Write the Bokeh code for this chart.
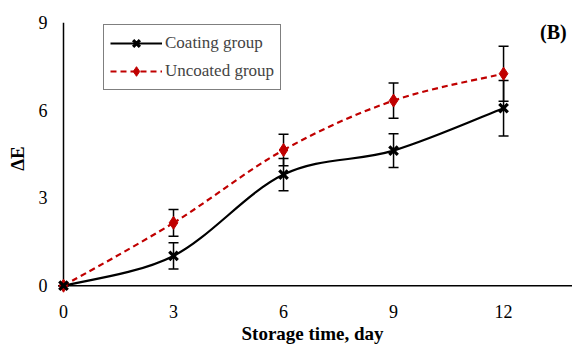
from bokeh.plotting import figure
from bokeh.models import (Range1d, FixedTicker, Whisker, TeeHead, ColumnDataSource,
                          Legend, LegendItem, Label)
from bokeh.embed import file_html
from bokeh.resources import INLINE

days = [0, 3, 6, 9, 12]
coating = [0.0, 1.02, 3.80, 4.62, 6.07]
coating_err = [0.0, 0.45, 0.55, 0.58, 0.95]
uncoated = [0.0, 2.15, 4.64, 6.33, 7.25]
uncoated_err = [0.0, 0.46, 0.54, 0.60, 0.94]
x_ticks = [0, 3, 6, 9, 12]
y_ticks = [0, 3, 6, 9]

RED = "#C00000"
FONT = "Liberation Serif"
X_END = 13.88


def smooth_segments(xs, ys):
    # Excel-like smoothed line: cubic Bezier per segment, Catmull-Rom control points
    n = len(xs)
    out = dict(x0=[], y0=[], x1=[], y1=[], cx0=[], cy0=[], cx1=[], cy1=[])
    for i in range(n - 1):
        xm, ym = (xs[i - 1], ys[i - 1]) if i > 0 else (xs[i], ys[i])
        xp, yp = (xs[i + 2], ys[i + 2]) if i + 2 < n else (xs[i + 1], ys[i + 1])
        out["x0"].append(xs[i]); out["y0"].append(ys[i])
        out["x1"].append(xs[i + 1]); out["y1"].append(ys[i + 1])
        out["cx0"].append(xs[i] + (xs[i + 1] - xm) / 6)
        out["cy0"].append(ys[i] + (ys[i + 1] - ym) / 6)
        out["cx1"].append(xs[i + 1] - (xp - xs[i]) / 6)
        out["cy1"].append(ys[i + 1] - (yp - ys[i]) / 6)
    return ColumnDataSource(out)


p = figure(width=572, height=346, output_backend="svg", toolbar_location=None,
           x_range=Range1d(-0.3, X_END), y_range=Range1d(-0.3, 9.0),
           min_border_left=52, min_border_right=0, min_border_top=22, min_border_bottom=52)
p.background_fill_color = "white"
p.border_fill_color = "white"
p.outline_line_color = None
p.grid.visible = False

for ax, ticks in ((p.xaxis[0], x_ticks), (p.yaxis[0], y_ticks)):
    ax.ticker = FixedTicker(ticks=ticks)
    ax.major_tick_out = 0
    ax.major_tick_in = 0
    ax.minor_tick_out = 0
    ax.minor_tick_in = 0
    ax.axis_line_color = None
    ax.major_label_text_font = FONT
    ax.major_label_text_font_size = "18px"
    ax.major_label_text_color = "black"
    ax.axis_label_text_font = FONT
    ax.axis_label_text_font_style = "bold"
    ax.axis_label_text_color = "black"

p.xaxis.major_label_standoff = 10
p.yaxis.major_label_standoff = 5
p.xaxis.axis_label = "Storage time, day"
p.xaxis.axis_label_text_font_size = "19px"
p.xaxis.axis_label_standoff = 2
p.yaxis.axis_label = "ΔE"
p.yaxis.axis_label_text_font_size = "19px"
p.yaxis.axis_label_standoff = 8

# axis lines crossing at the origin
p.segment(x0=[x_ticks[0], x_ticks[0]], y0=[y_ticks[0], y_ticks[0]],
          x1=[X_END, x_ticks[0]], y1=[y_ticks[0], y_ticks[-1]],
          line_color="black", line_width=1.5)

# smoothed lines
p.bezier(x0="x0", y0="y0", x1="x1", y1="y1", cx0="cx0", cy0="cy0", cx1="cx1", cy1="cy1",
         source=smooth_segments(days, uncoated), line_color=RED, line_width=2.2,
         line_dash="6 4")
p.bezier(x0="x0", y0="y0", x1="x1", y1="y1", cx0="cx0", cy0="cy0", cx1="cx1", cy1="cy1",
         source=smooth_segments(days, coating), line_color="black", line_width=2.2)

# error bars
for vals, errs in ((uncoated, uncoated_err), (coating, coating_err)):
    src = ColumnDataSource(dict(x=days, up=[v + e for v, e in zip(vals, errs)],
                                lo=[v - e for v, e in zip(vals, errs)]))
    w = Whisker(base="x", upper="up", lower="lo", source=src,
                line_color="black", line_width=1.5,
                upper_head=TeeHead(size=10, line_color="black", line_width=1.5),
                lower_head=TeeHead(size=10, line_color="black", line_width=1.5))
    p.add_layout(w)

r_unc = p.scatter(days, uncoated, marker="diamond", size=13, fill_color=RED,
                  line_color=RED)
r_coat = p.scatter(days, coating, marker="x", size=12, line_color="black", line_width=3.2)

# legend glyph lines (single point: draws nothing in the plot)
l_coat = p.line(days[:1], coating[:1], line_color="black", line_width=2.2)
l_unc = p.line(days[:1], uncoated[:1], line_color=RED, line_width=2.2, line_dash="6 4")

legend = Legend(items=[LegendItem(label="Coating group", renderers=[l_coat, r_coat]),
                       LegendItem(label="Uncoated group", renderers=[l_unc, r_unc])],
                location=(51, 204), orientation="vertical",
                border_line_color="black", border_line_width=1.5,
                background_fill_color="white", background_fill_alpha=1,
                label_text_font=FONT, label_text_font_size="17px",
                glyph_width=52, glyph_height=24, label_height=24, label_standoff=3,
                spacing=4, padding=6, margin=0)
p.add_layout(legend, "center")

p.add_layout(Label(x=13.36, y=8.66, text="(B)", text_font=FONT, text_font_style="bold",
                   text_font_size="20px", text_align="center", text_baseline="middle",
                   text_color="black"))

open("out.html", "w").write(file_html(p, INLINE))
